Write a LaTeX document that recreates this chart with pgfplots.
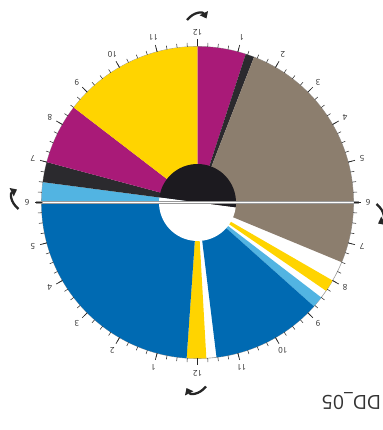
\documentclass[border=0pt]{standalone}
\usepackage{pgfplots}
\pgfplotsset{compat=1.18}
\usepackage{fontspec}
\setmainfont{Open Sans}
\usetikzlibrary{arrows.meta}
\definecolor{cLblue}{HTML}{52B4E2}
\definecolor{cDark}{HTML}{2B2A2E}
\definecolor{cMag}{HTML}{A91A78}
\definecolor{cYel}{HTML}{FFD400}
\definecolor{cBrown}{HTML}{8C7E6E}
\definecolor{cBlue}{HTML}{006AB2}
\definecolor{cCore}{HTML}{1C1A1F}
\definecolor{cGrid}{HTML}{9A9A9A}
% sector: colour, start angle, end angle, radius (data in polar form)
\newcommand{\sector}[4]{\addplot[fill=#1, draw=none, data cs=polar] coordinates {(0,0) (#2,#4)} arc[start angle=#2, end angle=#3, radius=#4pt] -- cycle;}
\newcommand{\lab}[2]{\node[rotate=180, font=\fontsize{8}{9}\selectfont, text=black!85, inner sep=0pt] at (axis cs:{170.5*cos(#1)},{170.5*sin(#1)}) {#2};}
\newcommand{\rarrow}[3]{\begin{scope}[shift={(axis cs:#1,#2)}, rotate=#3]\draw[line width=2.3pt, black!85, -{Triangle[length=6pt,width=9pt]}] (-12pt,-2.5pt) .. controls (-5pt,6pt) and (4pt,6pt) .. (7.5pt,-1pt);\end{scope}}
\begin{document}
\begin{tikzpicture}
\begin{axis}[
  x=1pt, y=1pt,
  xmin=-197.5, xmax=184.5, ymin=-227.5, ymax=202.5,
  hide axis, clip=false,
]
% outer ring
\draw[cGrid, line width=0.6pt] (axis cs:0,0) circle[radius=156pt];
% upper half (6 -> 12 -> 6)
\sector{cLblue}{180}{172.5}{156}
\sector{cDark}{172.5}{165}{156}
\sector{cMag}{165}{142.5}{156}
\sector{cYel}{142.5}{90}{156}
\sector{cMag}{90}{72}{156}
\sector{cDark}{72}{68.75}{156}
\sector{cBrown}{68.75}{-22.5}{156}
% lower half
\sector{cYel}{-30}{-34.5}{156}
\sector{cLblue}{-37.5}{-41.75}{156}
\sector{cBlue}{-41.75}{-83}{156}
\sector{cYel}{-86.75}{-94}{156}
\sector{cBlue}{-94}{-180}{156}
% inner disc
\addplot[fill=cCore, draw=none, data cs=polar] coordinates {(-7.5,38.5) (-7.5,38.5)} arc[start angle=-7.5, end angle=172.5, radius=38.5pt] -- cycle;
\addplot[fill=white, draw=none, data cs=polar] coordinates {(172.5,38.5) (172.5,38.5)} arc[start angle=172.5, end angle=352.5, radius=38.5pt] -- cycle;
% horizontal divider
\draw[cGrid, line width=3.2pt] (axis cs:-162,0) -- (axis cs:161,0);
\draw[white, line width=1.8pt] (axis cs:-155,0) -- (axis cs:161,0);
% ticks
\pgfplotsinvokeforeach{0,...,95}{\draw[black!80, line width=0.55pt] (axis cs:{156*cos(#1*3.75)},{156*sin(#1*3.75)}) -- (axis cs:{160*cos(#1*3.75)},{160*sin(#1*3.75)});}
\pgfplotsinvokeforeach{0,...,23}{\draw[black!85, line width=0.7pt] (axis cs:{156*cos(#1*15)},{156*sin(#1*15)}) -- (axis cs:{163*cos(#1*15)},{163*sin(#1*15)});}
% labels
\lab{180}{6}\lab{165}{7}\lab{150}{8}\lab{135}{9}\lab{120}{10}\lab{105}{11}
\lab{90}{12}\lab{75}{1}\lab{60}{2}\lab{45}{3}\lab{30}{4}\lab{15}{5}\lab{0}{6}
\lab{-15}{7}\lab{-30}{8}\lab{-45}{9}\lab{-60}{10}\lab{-75}{11}\lab{-90}{12}
\lab{-105}{1}\lab{-120}{2}\lab{-135}{3}\lab{-150}{4}\lab{-165}{5}
% direction arrows
\rarrow{1.5}{185}{0}
\rarrow{181.5}{-13.5}{-90}
\rarrow{-3.5}{-186.5}{180}
\rarrow{-181.5}{5.5}{90}
% title
\node[rotate=180, font=\fontsize{19.5}{22}\selectfont, text=black!80] at (axis cs:154,-199) {DD\_05};
\end{axis}
\pgfresetboundingbox
\path (current axis.south west) rectangle (current axis.north east);
\end{tikzpicture}
\end{document}
